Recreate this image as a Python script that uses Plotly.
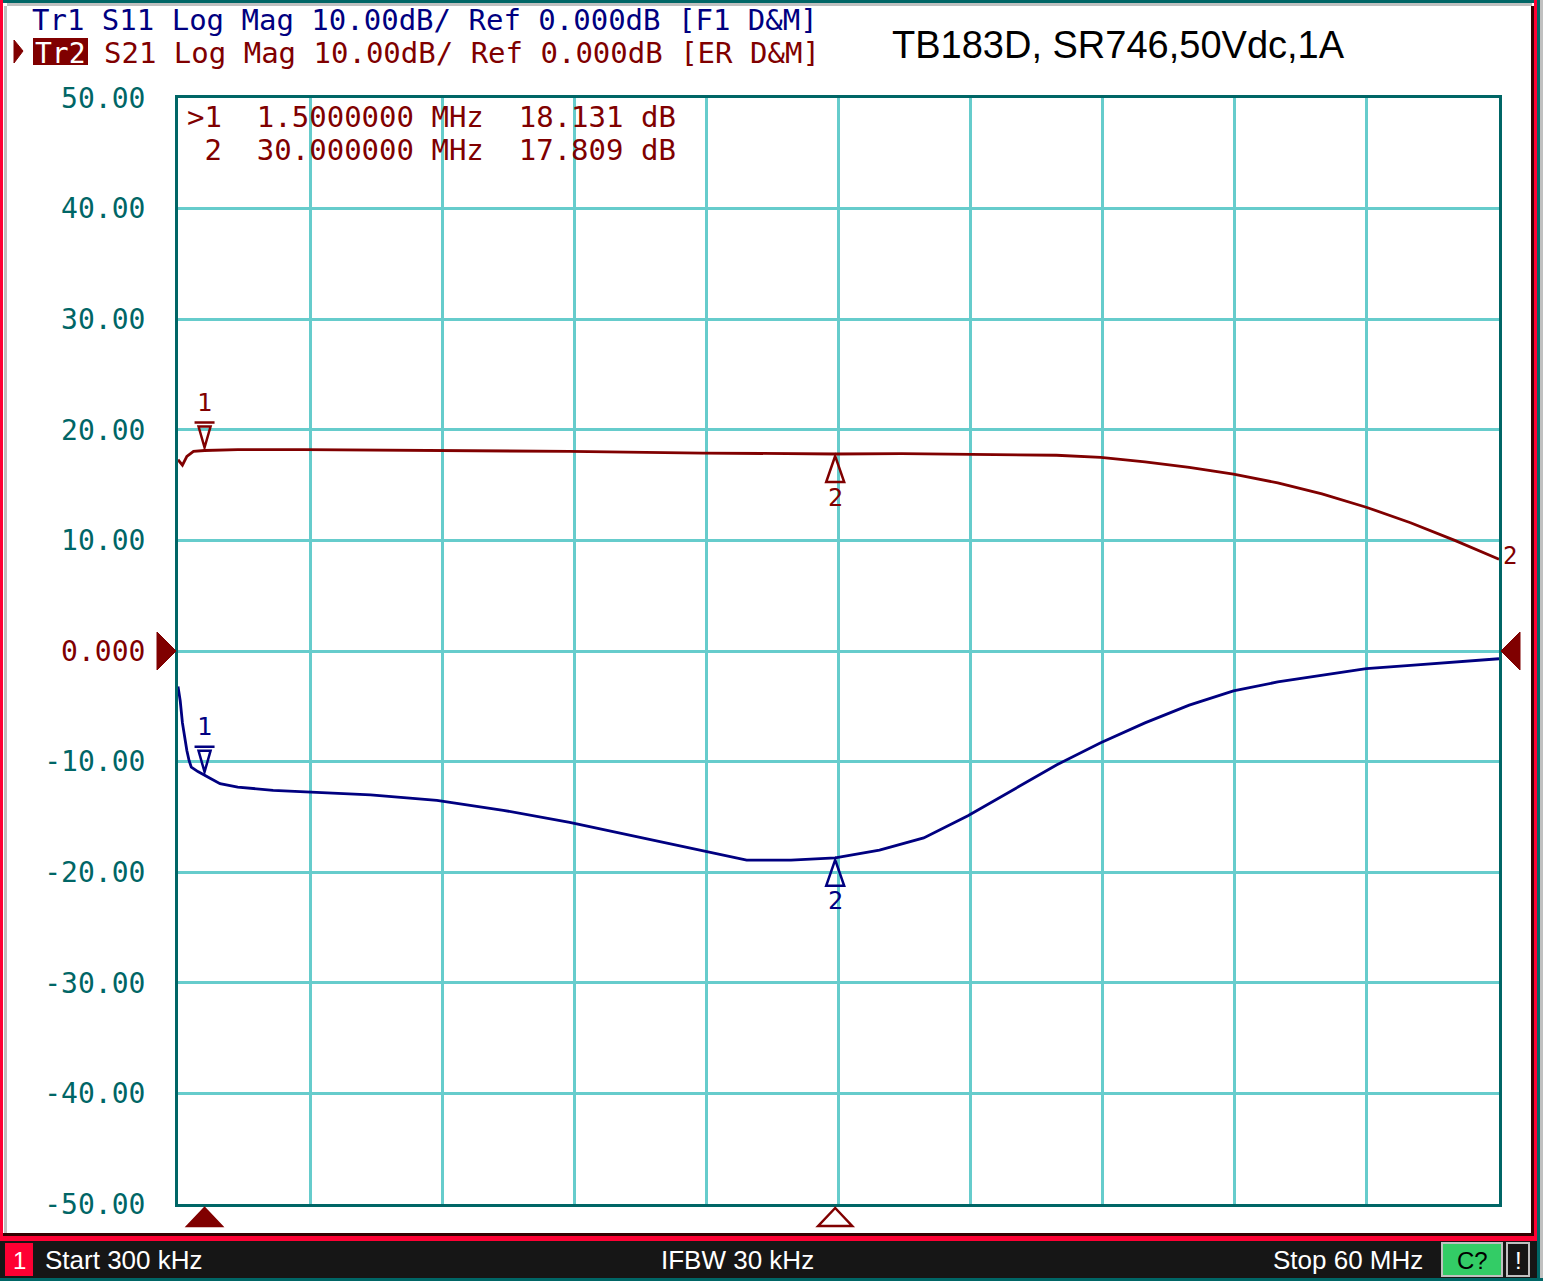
import numpy as np
import plotly.graph_objects as go

# S21 trace (dB) vs frequency (MHz)
s21_freq = [0.3, 0.5, 0.7, 1.0, 1.5, 3, 6, 12, 18, 24, 30, 33, 36, 40, 42, 44, 46, 48, 50, 52, 54, 56, 58, 60]
s21_db = [17.3, 16.8, 17.6, 18.05, 18.13, 18.2, 18.2, 18.15, 18.05, 17.9, 17.81, 17.85, 17.8, 17.7, 17.5,
          17.1, 16.6, 16.0, 15.2, 14.2, 13.0, 11.6, 10.0, 8.3]

# S11 trace
s11_freq = [0.3, 0.4, 0.5, 0.6, 0.7, 0.8, 0.9, 1.2, 1.5, 1.75, 2.2, 3, 4.6, 7, 9, 12, 15, 18, 21, 24, 26, 28,
            30, 32, 34, 36, 38, 40, 42, 44, 46, 48, 50, 52, 54, 56, 58, 60]
s11_db = [-3.2, -4.5, -6.5, -8.0, -9.0, -9.9, -10.5, -10.9, -11.2, -11.5, -12.0, -12.3, -12.6, -12.8, -13.0,
          -13.5, -14.4, -15.5, -16.8, -18.1, -18.9, -18.9, -18.7, -18.0, -16.9, -14.9, -12.6, -10.3, -8.3,
          -6.5, -4.9, -3.6, -2.8, -2.2, -1.6, -1.3, -1.0, -0.7]

marker_freq = [1.5, 30.0]
marker_names = ["1", "2"]
marker_table = [">1  1.5000000 MHz  18.131 dB", " 2  30.000000 MHz  17.809 dB"]

y_ticks = [50, 40, 30, 20, 10, 0, -10, -20, -30, -40, -50]
y_labels = ["50.00", "40.00", "30.00", "20.00", "10.00", "0.000", "-10.00", "-20.00", "-30.00", "-40.00", "-50.00"]

start_mhz, stop_mhz = 0.3, 60.0

RED = "#800000"
NAVY = "#000080"
TEAL = "#006666"
GRID = "#66CCCC"
MONO = "DejaVu Sans Mono"
SANS = "Liberation Sans"

W, H = 1543, 1281
L, R, T, B = 178, 1499, 98, 1204


def px(x):
    return (x - L) / (R - L)


def py(y):
    return (B - y) / (B - T)


fig = go.Figure()
fig.add_trace(go.Scatter(x=s21_freq, y=s21_db, mode="lines", line=dict(color=RED, width=2.8),
                         hoverinfo="skip", showlegend=False))
fig.add_trace(go.Scatter(x=s11_freq, y=s11_db, mode="lines", line=dict(color=NAVY, width=2.8),
                         hoverinfo="skip", showlegend=False))

shapes = []
annotations = []

# markers on both traces
for trace_f, trace_db, col in [(s21_freq, s21_db, RED), (s11_freq, s11_db, NAVY)]:
    for i, (mf, name) in enumerate(zip(marker_freq, marker_names)):
        my = float(np.interp(mf, trace_f, trace_db))
        if i == 0:
            path = "M -10,28 L 10,28 M -6,24 L 6,24 L 0,3 Z"
            shift = 48
        else:
            path = "M 0,-2 L -9,-28 L 9,-28 Z"
            shift = -43
        shapes.append(dict(type="path", xref="x", yref="y", xsizemode="pixel", ysizemode="pixel",
                           xanchor=mf, yanchor=my, path=path, line=dict(color=col, width=2.5)))
        annotations.append(dict(x=mf, y=my, xref="x", yref="y", text=name, showarrow=False, yshift=shift,
                                font=dict(family=MONO, size=25, color=col)))

# end label of S21 trace
annotations.append(dict(x=s21_freq[-1], y=s21_db[-1], xref="x", yref="y", text="2", showarrow=False,
                        xshift=11, yshift=3, font=dict(family=MONO, size=24, color=RED)))

# stimulus markers under the grid
for i, mf in enumerate(marker_freq):
    shapes.append(dict(type="path", xref="x", yref="paper", xsizemode="pixel", ysizemode="pixel",
                       xanchor=mf, yanchor=0, path="M 0,-4 L -17,-22 L 17,-22 Z",
                       fillcolor=RED if i == 0 else "white", line=dict(color=RED, width=2.5)))

# reference level arrows
shapes.append(dict(type="path", xref="paper", yref="y", xsizemode="pixel", ysizemode="pixel",
                   xanchor=0, yanchor=0, path="M -21,19 L -2,0 L -21,-19 Z", fillcolor=RED,
                   line=dict(color=RED, width=1)))
shapes.append(dict(type="path", xref="paper", yref="y", xsizemode="pixel", ysizemode="pixel",
                   xanchor=1, yanchor=0, path="M 2,0 L 21,19 L 21,-19 Z", fillcolor=RED,
                   line=dict(color=RED, width=1)))


def rect(x0, y0, x1, y1, fill, line=None, lw=0):
    shapes.append(dict(type="rect", xref="paper", yref="paper", x0=px(x0), x1=px(x1), y0=py(y0), y1=py(y1),
                       fillcolor=fill, line=dict(color=line or fill, width=lw), layer="below"))


# window frame
rect(0, 0, W, 3, TEAL)
rect(7, 3, 1532, 6, "#C0C0C0")
rect(0, 0, 3, 1240, "#FF0033")
rect(4, 6, 7, 1234, "#C0C0C0")
rect(1531, 6, 1534, 1236, "#330000")
rect(1534, 0, 1537, 1240, "#FF0033")
rect(1537, 0, 1540, H, TEAL)
rect(1540, 0, W, H, "#C0C0C0")
rect(3, 1233, 1534, 1236, "#330000")
rect(0, 1236, 1537, 1241, "#FF0033")

# status bar
rect(0, 1241, 1537, 1278, "#161616")
rect(0, 1278, W, H, TEAL)
rect(5, 1243, 33, 1276, "#FF0033")
rect(1442, 1243, 1502, 1276, "#33CC66", "#C0C0C0", 2)
rect(1507, 1243, 1529, 1276, "#161616", "#C0C0C0", 2)

# active trace pointer and Tr2 box
shapes.append(dict(type="path", xref="paper", yref="paper",
                   path=f"M {px(14)},{py(40)} L {px(23)},{py(51)} L {px(14)},{py(63)} Z",
                   fillcolor=RED, line=dict(color=RED, width=1)))
rect(33, 38, 88, 65, RED)


def text(x, y, s, size, color, family=MONO, xanchor="left"):
    annotations.append(dict(x=px(x), y=py(y), xref="paper", yref="paper", text=s, showarrow=False,
                            xanchor=xanchor, yanchor="middle", borderpad=0,
                            font=dict(family=family, size=size, color=color)))


text(31, 20, "Tr1 S11 Log Mag 10.00dB/ Ref 0.000dB [F1 D&M]", 29, NAVY)
text(34, 53, "Tr2", 28, "white")
text(103, 53, "S21 Log Mag 10.00dB/ Ref 0.000dB [ER D&M]", 29, RED)
text(891, 45, "TB183D, SR746,50Vdc,1A", 38, "black", SANS)
text(186, 117, marker_table[0], 29, RED)
text(186, 150, marker_table[1], 29, RED)

text(19, 1260, "1", 24, "white", SANS, "center")
text(44, 1260, f"Start {start_mhz * 1000:.0f} kHz", 26, "white", SANS)
text(737, 1260, "IFBW 30 kHz", 26, "white", SANS, "center")
text(1424, 1260, f"Stop {stop_mhz:.0f} MHz", 26, "white", SANS, "right")
text(1472, 1260, "C?", 24, "black", SANS, "center")
text(1518, 1260, "!", 24, "white", SANS, "center")

tick_text = [f'<span style="color:{RED}">{t}</span>' if v == 0 else t for v, t in zip(y_ticks, y_labels)]

fig.update_layout(
    width=W, height=H,
    margin=dict(l=L, r=W - R, t=T, b=H - B),
    paper_bgcolor="white", plot_bgcolor="white",
    shapes=shapes, annotations=annotations,
    xaxis=dict(range=[start_mhz, stop_mhz], tick0=start_mhz, dtick=(stop_mhz - start_mhz) / 10,
               showticklabels=False, showgrid=True, gridcolor=GRID, gridwidth=2.5, zeroline=False,
               showline=True, linecolor=TEAL, linewidth=3, mirror=True, ticks=""),
    yaxis=dict(range=[-50, 50], tickvals=y_ticks, ticktext=tick_text, showgrid=True, gridcolor=GRID,
               gridwidth=2.5, zeroline=False, showline=True, linecolor=TEAL, linewidth=3, mirror=True,
               ticks="outside", ticklen=24, tickcolor="rgba(0,0,0,0)",
               tickfont=dict(family=MONO, size=28, color=TEAL)),
)

fig.write_html("out.html", config={"displayModeBar": False},
               post_script="document.body.style.margin = '0';")
